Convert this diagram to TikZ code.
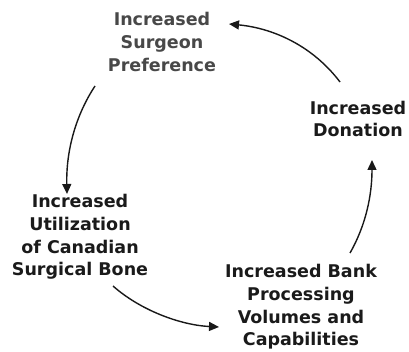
\documentclass[tikz,border=0pt]{standalone}
\usepackage{fontspec}
\setmainfont{DejaVu Sans}
\usetikzlibrary{arrows.meta}
\definecolor{graytxt}{HTML}{484848}
\definecolor{darktxt}{HTML}{1A1A1A}
\tikzset{
  lbl/.style={align=center, inner sep=0pt, font=\bfseries\fontsize{17.5}{22.7}\selectfont, text=darktxt},
  toplbl/.style={lbl, text=graytxt},
  arr/.style={line width=1.4pt, draw=black!90, -{Triangle[length=10pt,width=9pt]}}
}
\begin{document}
\begin{tikzpicture}[x=1pt,y=-1pt]
\useasboundingbox (0,0) rectangle (409,352);
\node[toplbl] (sp) at (162,42) {Increased\\Surgeon\\Preference};
\node[lbl] (don) at (358,119) {Increased\\Donation};
\node[lbl] (ut) at (80,237) {Increased\\Utilization\\of Canadian\\Surgical Bone};
\node[lbl] (bank) at (301,307) {Increased Bank\\Processing\\Volumes and\\Capabilities};
\coordinate (spout) at (95,86);
\coordinate (utin) at (67,194);
\coordinate (utout) at (113,286);
\coordinate (bankin) at (219,327);
\coordinate (bankout) at (350,253);
\coordinate (donin) at (372,160);
\coordinate (donout) at (340,82);
\coordinate (spin) at (229,24);
\draw[arr] (spout) .. controls (76,115) and (66,150) .. (utin);
\draw[arr] (utout) .. controls (140,310) and (180,325) .. (bankin);
\draw[arr] (bankout) .. controls (366,225) and (372,195) .. (donin);
\draw[arr] (donout) .. controls (312,45) and (272,28) .. (spin);
\end{tikzpicture}
\end{document}
